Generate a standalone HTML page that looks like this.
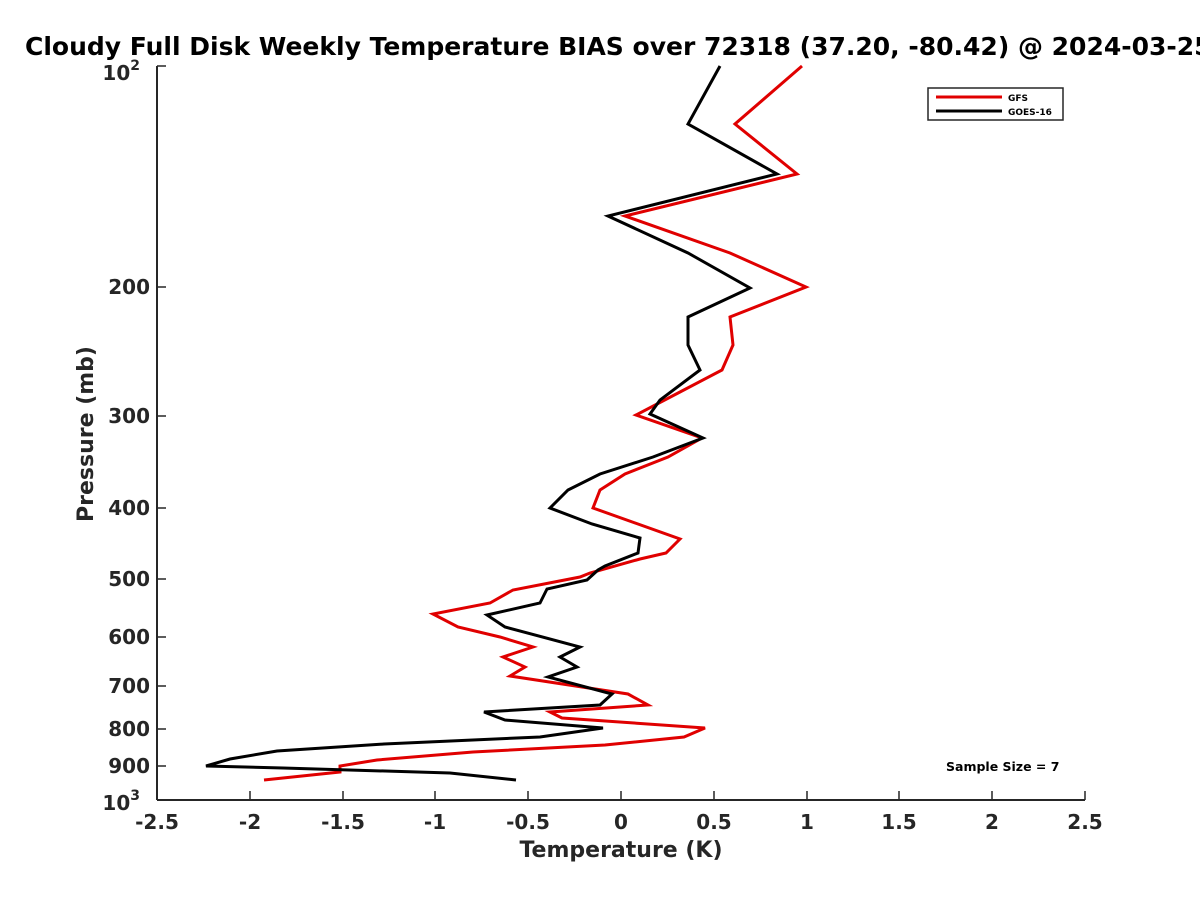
<!DOCTYPE html>
<html><head><style>body{margin:0;background:#fff}svg{display:block}</style></head><body>
<svg width="1200" height="900" xmlns="http://www.w3.org/2000/svg" font-family="DejaVu Sans, sans-serif">
<rect width="1200" height="900" fill="#fff"/>
<text x="25" y="55" font-size="25" font-weight="bold" fill="#000">Cloudy Full Disk Weekly Temperature BIAS over 72318 (37.20, -80.42) @ 2024-03-25</text>
<g stroke="#262626" stroke-width="2" fill="none">
<line x1="157" y1="66" x2="157" y2="800"/>
<line x1="157" y1="800" x2="1085" y2="800"/>
</g>
<g stroke="#262626" stroke-width="1.5">
<line x1="157" y1="66" x2="166" y2="66"/>
<line x1="157" y1="287" x2="166" y2="287"/>
<line x1="157" y1="416" x2="166" y2="416"/>
<line x1="157" y1="508" x2="166" y2="508"/>
<line x1="157" y1="579" x2="166" y2="579"/>
<line x1="157" y1="637" x2="166" y2="637"/>
<line x1="157" y1="686" x2="166" y2="686"/>
<line x1="157" y1="729" x2="166" y2="729"/>
<line x1="157" y1="766" x2="166" y2="766"/>
<line x1="250" y1="800" x2="250" y2="791"/><line x1="343" y1="800" x2="343" y2="791"/><line x1="435" y1="800" x2="435" y2="791"/><line x1="528" y1="800" x2="528" y2="791"/><line x1="621" y1="800" x2="621" y2="791"/><line x1="714" y1="800" x2="714" y2="791"/><line x1="807" y1="800" x2="807" y2="791"/><line x1="899" y1="800" x2="899" y2="791"/><line x1="992" y1="800" x2="992" y2="791"/><line x1="1085" y1="800" x2="1085" y2="791"/>
</g>
<g font-size="20" font-weight="bold" fill="#262626" text-anchor="end">
<text x="140" y="80">10<tspan font-size="14" dy="-10">2</tspan></text>
<text x="150" y="294">200</text>
<text x="150" y="423">300</text>
<text x="150" y="515">400</text>
<text x="150" y="586">500</text>
<text x="150" y="644">600</text>
<text x="150" y="693">700</text>
<text x="150" y="736">800</text>
<text x="150" y="773">900</text>
<text x="140" y="810">10<tspan font-size="14" dy="-10">3</tspan></text>
</g>
<g font-size="20" font-weight="bold" fill="#262626" text-anchor="middle">
<text x="157" y="829">-2.5</text><text x="250" y="829">-2</text><text x="343" y="829">-1.5</text><text x="435" y="829">-1</text><text x="528" y="829">-0.5</text><text x="621" y="829">0</text><text x="714" y="829">0.5</text><text x="807" y="829">1</text><text x="899" y="829">1.5</text><text x="992" y="829">2</text><text x="1085" y="829">2.5</text>
<text x="621" y="857" font-size="22">Temperature (K)</text>
<text transform="translate(93,434) rotate(-90)" font-size="22">Pressure (mb)</text>
</g>
<polyline fill="none" stroke="#e00000" stroke-width="3" points="802,66 735,124 797,174 625,216 730,253 806,287 730,317 733,345 722,370 680,392 636,415 702,438 668,457 625,474 600,490 593,508 680,539 666,553 640,559 590,573 580,577 513,590 490,603 433,614 458,627 500,637 533,647 503,657 525,667 510,676 628,694 648,705 550,712 562,718 705,728 684,737 605,745 473,752 377,760 340,766 340,772 264,780"/>
<polyline fill="none" stroke="#000" stroke-width="3" points="720,66 688,124 777,174 608,216 688,253 750,288 688,317 688,345 700,370 660,400 650,414 703,438 653,457 600,474 568,490 550,508 592,524 640,538 638,553 605,566 598,570 587,580 547,589 540,603 487,615 505,627 580,647 560,657 577,667 548,677 612,694 600,705 484,712 505,720 603,728 540,737 384,744 277,751 230,759 206,766 283,768 450,773 516,780"/>
<rect x="928" y="88" width="135" height="32" fill="#fff" stroke="#262626" stroke-width="1.5"/>
<line x1="936" y1="97" x2="1002" y2="97" stroke="#e00000" stroke-width="3"/>
<line x1="936" y1="111" x2="1002" y2="111" stroke="#000" stroke-width="3"/>
<text x="1008" y="101" font-size="9" font-weight="bold" fill="#000">GFS</text>
<text x="1008" y="115" font-size="9" font-weight="bold" fill="#000">GOES-16</text>
<text x="946" y="771" font-size="12.5" font-weight="bold" fill="#000">Sample Size = 7</text>
</svg>
</body></html>
